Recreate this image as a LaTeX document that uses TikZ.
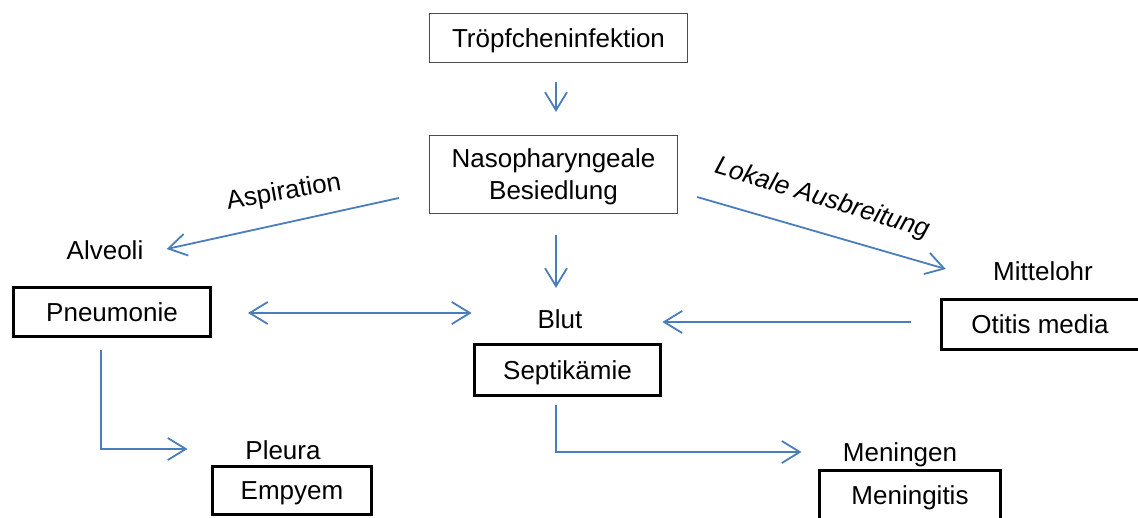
\documentclass[tikz,border=0pt]{standalone}
\usepackage{fontspec}
\setmainfont{Liberation Sans}
\usetikzlibrary{arrows.meta}
\definecolor{flowblue}{RGB}{74,126,187}
\newcommand{\diagfont}{\fontsize{13}{16}\selectfont}

\begin{document}
\begin{tikzpicture}[
    x=0.5pt, y=-0.5pt,
    every node/.style={font=\diagfont},
    thinbox/.style={draw=black!70,line width=0.6pt,align=center,inner sep=0pt,text depth=0pt},
    thickbox/.style={draw,line width=1.5pt,inner sep=0pt,text height=9.3pt,text depth=0pt},
    site/.style={inner sep=0pt,text height=9.3pt,text depth=0pt},
    >={Straight Barb[length=9pt,width=11pt]},
    flow/.style={draw=flowblue,line width=0.9pt,->}
]
    \useasboundingbox (0,0) rectangle (1138,518);
    \clip (0,0) rectangle (1138,518);

    % boxes
    \node[thinbox,minimum width=129pt,minimum height=24.5pt,text height=9.3pt] (tropf) at (558.5,38) {Tröpfcheninfektion};
    \node[thinbox,minimum width=124pt,minimum height=39pt]   (naso)  at (553.5,174.5) {Nasopharyngeale\\Besiedlung};
    \node[thickbox,minimum width=98.5pt,minimum height=24.5pt] (pneu)       at (112,312)    {Pneumonie};
    \node[thickbox,minimum width=93pt,minimum height=25.5pt]   (sept)       at (567.5,370)  {Septikämie};
    \node[thickbox,draw=none,outer sep=0pt,minimum width=98.5pt,minimum height=25pt] (meddoc) at (1040,324.5) {Otitis media};
    \node[thickbox,minimum width=79.5pt,minimum height=24pt]   (empyem)     at (292,490.5)  {Empyem};
    \node[thickbox,minimum width=90.5pt,minimum height=24.5pt] (meningitis) at (910,495)    {Meningitis};
    % the otitis box runs past the right edge
    \draw[line width=1.5pt] ([xshift=20pt]meddoc.north east) -| (meddoc.south west) -- ([xshift=20pt]meddoc.south east);

    % sites
    \node[site] (alveoli)   at (105,250.6)  {Alveoli};
    \node[site] (blut)      at (560,319.6)  {Blut};
    \node[site] (mittelohr) at (1043,271.6) {Mittelohr};
    \node[site] (pleura)    at (283,450.6)  {Pleura};
    \node[site] (meningen)  at (900,452.6)  {Meningen};

    % route labels
    \node[rotate=10] (aspiration) at (284,193) {Aspiration};
    \node[rotate=-17,font=\diagfont\itshape] (ausbreitung) at (822,199) {Lokale Ausbreitung};

    % arrows
    \draw[flow] ([shift={(-2.5,19)}]tropf.south) -- ([shift={(2.5,-23)}]naso.north);
    \draw[flow] ([shift={(2.5,21)}]naso.south) -- ([shift={(-4,-22)}]blut.north);
    \draw[flow] ([shift={(-30,23.5)}]naso.west) -- ([shift={(23,-1.6)}]alveoli.east);
    \draw[flow] ([shift={(19,22.5)}]naso.east) -- ([shift={(-47,-2.6)}]mittelohr.west);
    \draw[flow,<->] ([shift={(36,1)}]pneu.east) -- ([shift={(-65.6,-6.6)}]blut.west);
    \draw[flow] ([shift={(-31,-2.5)}]meddoc.west) -- ([shift={(79.6,2.4)}]blut.east);
    \draw[flow] ([shift={(-11.5,8)}]sept.south) |- ([shift={(-41,-0.6)}]meningen.west);
    \draw[flow] ([shift={(-11.3,12)}]pneu.south) |- ([shift={(-57.5,-1.6)}]pleura.west);
\end{tikzpicture}
\end{document}
